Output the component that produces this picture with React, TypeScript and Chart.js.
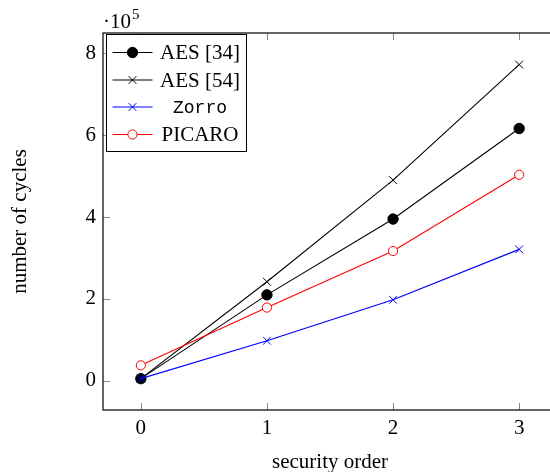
import React, { useEffect, useRef } from "react";
import { Chart, registerables } from "chart.js";

Chart.register(...registerables);

// ---- data (cycles) ----
const securityOrders = [0, 1, 2, 3];
const aes34 = [5500, 210000, 395000, 616000];
const aes54 = [5500, 242000, 490000, 772000];
const zorro = [5500, 98000, 198000, 321000];
const picaro = [38000, 179000, 317000, 503000];
const seriesLabels = ["AES [34]", "AES [54]", "Zorro", "PICARO"];
const xTickValues = [0, 1, 2, 3];
const yTickValues = [0, 200000, 400000, 600000, 800000];
const yScaleExponent = 5;

const SERIF = '"Liberation Serif", "Times New Roman", serif';
const MONO = '"Liberation Mono", "DejaVu Sans Mono", monospace';

const seriesStyles = [
  { color: "#000000", style: "circle", fill: "#000000", radius: 5.2 },
  { color: "#000000", style: "crossRot", fill: "#000000", radius: 5.5 },
  { color: "#0000ff", style: "crossRot", fill: "#0000ff", radius: 5.5 },
  { color: "#ff0000", style: "circle", fill: "#ffffff", radius: 4.6 },
];

function drawMarker(ctx: CanvasRenderingContext2D, s: any, x: number, y: number) {
  ctx.save();
  ctx.strokeStyle = s.color;
  ctx.fillStyle = s.fill;
  ctx.lineWidth = 1;
  ctx.beginPath();
  if (s.style === "circle") {
    ctx.arc(x, y, s.radius, 0, Math.PI * 2);
    ctx.fill();
    ctx.stroke();
  } else {
    const o = Math.cos(Math.PI / 4) * s.radius;
    ctx.moveTo(x - o, y - o);
    ctx.lineTo(x + o, y + o);
    ctx.moveTo(x - o, y + o);
    ctx.lineTo(x + o, y - o);
    ctx.stroke();
  }
  ctx.restore();
}

const framePlugin = {
  id: "pgfFrame",
  beforeDatasetsDraw(chart: any) {
    const { ctx, chartArea: a, scales } = chart;
    const xs = scales.x;
    const ys = scales.y;
    const tl = 7;
    ctx.save();
    ctx.strokeStyle = "#8a8a8a";
    ctx.lineWidth = 1;
    ctx.beginPath();
    xTickValues.forEach((v) => {
      const px = Math.round(xs.getPixelForValue(v)) + 0.5;
      ctx.moveTo(px, a.bottom);
      ctx.lineTo(px, a.bottom - tl);
      ctx.moveTo(px, a.top);
      ctx.lineTo(px, a.top + tl);
    });
    yTickValues.forEach((v) => {
      const py = Math.round(ys.getPixelForValue(v)) + 0.5;
      ctx.moveTo(a.left, py);
      ctx.lineTo(a.left + tl, py);
      ctx.moveTo(a.right, py);
      ctx.lineTo(a.right - tl, py);
    });
    ctx.stroke();
    ctx.strokeStyle = "#000";
    ctx.lineWidth = 1.2;
    ctx.strokeRect(a.left, a.top, a.right - a.left, a.bottom - a.top);
    ctx.restore();
  },
  afterDraw(chart: any) {
    const { ctx, chartArea: a } = chart;
    ctx.save();
    // exponent label
    ctx.fillStyle = "#000";
    ctx.textBaseline = "alphabetic";
    ctx.textAlign = "left";
    ctx.font = `21px ${SERIF}`;
    const base = "\u00B710";
    ctx.fillText(base, a.left, 27.5);
    const w = ctx.measureText(base).width;
    ctx.font = `15px ${SERIF}`;
    ctx.fillText(String(yScaleExponent), a.left + w + 1, 19);

    // legend
    const bx = 106, by = 34, bw = 140, bh = 117;
    ctx.fillStyle = "#fff";
    ctx.fillRect(bx, by, bw, bh);
    ctx.strokeStyle = "#000";
    ctx.lineWidth = 1;
    ctx.strokeRect(bx + 0.5, by + 0.5, bw, bh);
    const rowY = [52.5, 80, 107, 134.5];
    seriesLabels.forEach((label, i) => {
      const s = seriesStyles[i];
      const y = rowY[i];
      ctx.strokeStyle = s.color;
      ctx.lineWidth = 1.1;
      ctx.beginPath();
      ctx.moveTo(112.5, y);
      ctx.lineTo(152.5, y);
      ctx.stroke();
      drawMarker(ctx, s, 132.5, y);
      ctx.fillStyle = "#000";
      ctx.textAlign = "center";
      ctx.textBaseline = "middle";
      ctx.font = label === "Zorro" ? `18px ${MONO}` : `21px ${SERIF}`;
      ctx.fillText(label, 200, y + 1);
    });
    ctx.restore();
  },
};

export default function App() {
  const ref = useRef<HTMLCanvasElement | null>(null);

  useEffect(() => {
    if (!ref.current) return;
    const series = [aes34, aes54, zorro, picaro];
    const chart = new Chart(ref.current, {
      type: "line",
      data: {
        datasets: series.map((vals, i) => {
          const s = seriesStyles[i];
          return {
            label: seriesLabels[i],
            data: securityOrders.map((x, j) => ({ x, y: vals[j] })),
            borderColor: s.color,
            backgroundColor: s.fill,
            borderWidth: 1.1,
            pointStyle: s.style as any,
            pointRadius: s.radius,
            pointBorderWidth: 1,
            pointBorderColor: s.color,
            pointBackgroundColor: s.fill,
            pointHoverRadius: s.radius,
            tension: 0,
            fill: false,
            order: 3 - i,
          };
        }),
      },
      options: {
        animation: false,
        responsive: false,
        devicePixelRatio: 1,
        events: [],
        layout: { padding: { left: 0, top: 33, right: 13, bottom: 0 } },
        plugins: {
          legend: { display: false },
          tooltip: { enabled: false },
        },
        scales: {
          x: {
            type: "linear",
            position: "bottom",
            min: -0.3,
            max: 3.3,
            afterBuildTicks: (s: any) => {
              s.ticks = xTickValues.map((v) => ({ value: v }));
            },
            afterFit: (s: any) => {
              s.height = 62;
            },
            grid: { display: false },
            border: { display: false },
            ticks: {
              color: "#000",
              font: { family: SERIF, size: 21 },
              padding: -2,
              maxRotation: 0,
              callback: (v: any) => String(v),
            },
            title: {
              display: true,
              text: "security order",
              color: "#000",
              font: { family: SERIF, size: 21, lineHeight: 0.9 },
              padding: { top: 0, bottom: 0 },
            },
          },
          y: {
            type: "linear",
            position: "left",
            min: -71000,
            max: 849000,
            afterBuildTicks: (s: any) => {
              s.ticks = yTickValues.map((v) => ({ value: v }));
            },
            afterFit: (s: any) => {
              s.width = 103;
            },
            grid: { display: false },
            border: { display: false },
            ticks: {
              color: "#000",
              font: { family: SERIF, size: 21 },
              padding: -1,
              callback: (v: any) => String(Number(v) / Math.pow(10, yScaleExponent)),
            },
            title: {
              display: true,
              text: "number of cycles",
              color: "#000",
              font: { family: SERIF, size: 21 },
              padding: { top: 8, bottom: 0 },
            },
          },
        },
      },
      plugins: [framePlugin],
    });
    return () => chart.destroy();
  }, []);

  return (
    <div
      style={{
        position: "absolute",
        left: 0,
        top: 0,
        width: 550,
        height: 472,
        overflow: "hidden",
        background: "#fff",
      }}
    >
      <canvas ref={ref} width={570} height={472} style={{ display: "block" }} />
    </div>
  );
}
